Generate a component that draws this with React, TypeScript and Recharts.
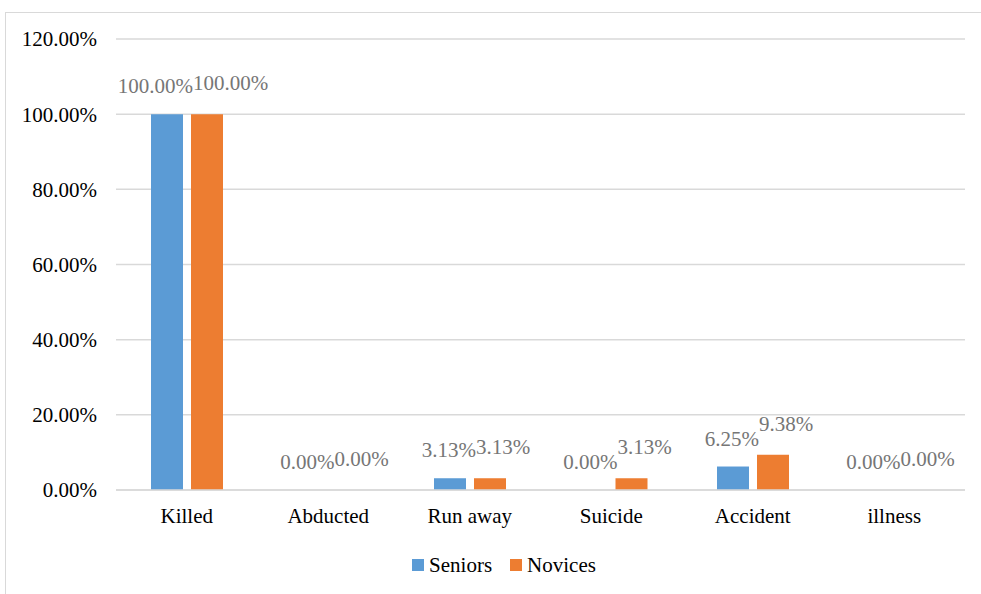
import React from 'react';
import { BarChart, Bar, XAxis, YAxis, CartesianGrid, Legend, LabelList } from 'recharts';

const categories = ['Killed', 'Abducted', 'Run away', 'Suicide', 'Accident', 'illness'];
const seniors = [100, 0, 3.13, 0, 6.25, 0];
const novices = [100, 0, 3.13, 3.13, 9.38, 0];
const yTicks = [0, 20, 40, 60, 80, 100, 120];

const SENIOR_COLOR = '#5B9BD5';
const NOVICE_COLOR = '#ED7D31';
const FONT = 'Liberation Serif';
const FONT_SIZE = 21;
const BAR_SIZE = 32;
const BAR_GAP = 8;
const CHART_W = 996;
const CHART_H = 600;

const data = categories.map((name, i) => ({ name, seniors: seniors[i], novices: novices[i] }));

const fmt = (v: number) => `${v.toFixed(2)}%`;

// rough Times glyph widths (em) for percentage strings
const textWidth = (s: string) =>
  s.split('').reduce((w, c) => w + (c === '.' ? 0.25 : c === '%' ? 0.833 : 0.5), 0) * FONT_SIZE;

// value label above a bar; neighbouring labels are pushed apart so they don't collide
const makeLabel = (dir: number, lift: number) => (props: any) => {
  const { x, y, width, height, value } = props;
  const text = fmt(Number(value));
  const w = textWidth(text);
  const shift = Math.max(0, w / 2 - (Number(width) + BAR_GAP) / 2);
  const cx = Number(x) + Number(width) / 2 + dir * shift + 6;
  const top = Math.min(Number(y), Number(y) + Number(height));
  return (
    <text
      x={cx}
      y={top - 21 - lift}
      textAnchor="middle"
      fill="#767676"
      style={{ fontFamily: FONT, fontSize: FONT_SIZE }}
    >
      {text}
    </text>
  );
};

const LegendContent = () => (
  <div
    style={{
      width: CHART_W,
      height: 40,
      display: 'flex',
      alignItems: 'center',
      justifyContent: 'center',
      fontFamily: FONT,
      fontSize: FONT_SIZE,
      color: '#000',
    }}
  >
    {[
      { label: 'Seniors', color: SENIOR_COLOR },
      { label: 'Novices', color: NOVICE_COLOR },
    ].map((it, i) => (
      <span key={it.label} style={{ display: 'flex', alignItems: 'center', marginLeft: i ? 18 : 0 }}>
        <span style={{ width: 12, height: 12, background: it.color, display: 'inline-block', marginRight: 5 }} />
        {it.label}
      </span>
    ))}
  </div>
);

const tickStyle = { fill: '#000', fontSize: FONT_SIZE, style: { fontFamily: FONT } };

export default function App() {
  return (
    <div
      style={{
        position: 'absolute',
        left: 5,
        top: 12,
        width: CHART_W,
        height: CHART_H,
        border: '1px solid #d9d9d9',
        background: '#fff',
        fontFamily: FONT,
      }}
    >
      <BarChart
        width={CHART_W}
        height={CHART_H}
        data={data}
        margin={{ top: 26, right: 37, bottom: 28, left: 0 }}
        barSize={BAR_SIZE}
        barGap={BAR_GAP}
        style={{ fontFamily: FONT }}
      >
        <CartesianGrid vertical={false} stroke="#d9d9d9" strokeWidth={1.5} />
        <XAxis
          dataKey="name"
          height={55}
          tickLine={false}
          axisLine={{ stroke: '#d9d9d9', strokeWidth: 1.5 }}
          tickMargin={12}
          tick={tickStyle}
        />
        <YAxis
          width={110}
          domain={[0, 120]}
          ticks={yTicks}
          interval={0}
          tickFormatter={fmt}
          axisLine={false}
          tickLine={false}
          tickMargin={13}
          tick={tickStyle}
        />
        <Legend
          verticalAlign="bottom"
          height={40}
          width={CHART_W}
          wrapperStyle={{ left: 0, width: CHART_W }}
          content={<LegendContent />}
        />
        <Bar dataKey="seniors" name="Seniors" fill={SENIOR_COLOR} minPointSize={0.01} isAnimationActive={false}>
          <LabelList dataKey="seniors" content={makeLabel(-1, 0)} />
        </Bar>
        <Bar dataKey="novices" name="Novices" fill={NOVICE_COLOR} minPointSize={0.01} isAnimationActive={false}>
          <LabelList dataKey="novices" content={makeLabel(1, 3)} />
        </Bar>
      </BarChart>
    </div>
  );
}
